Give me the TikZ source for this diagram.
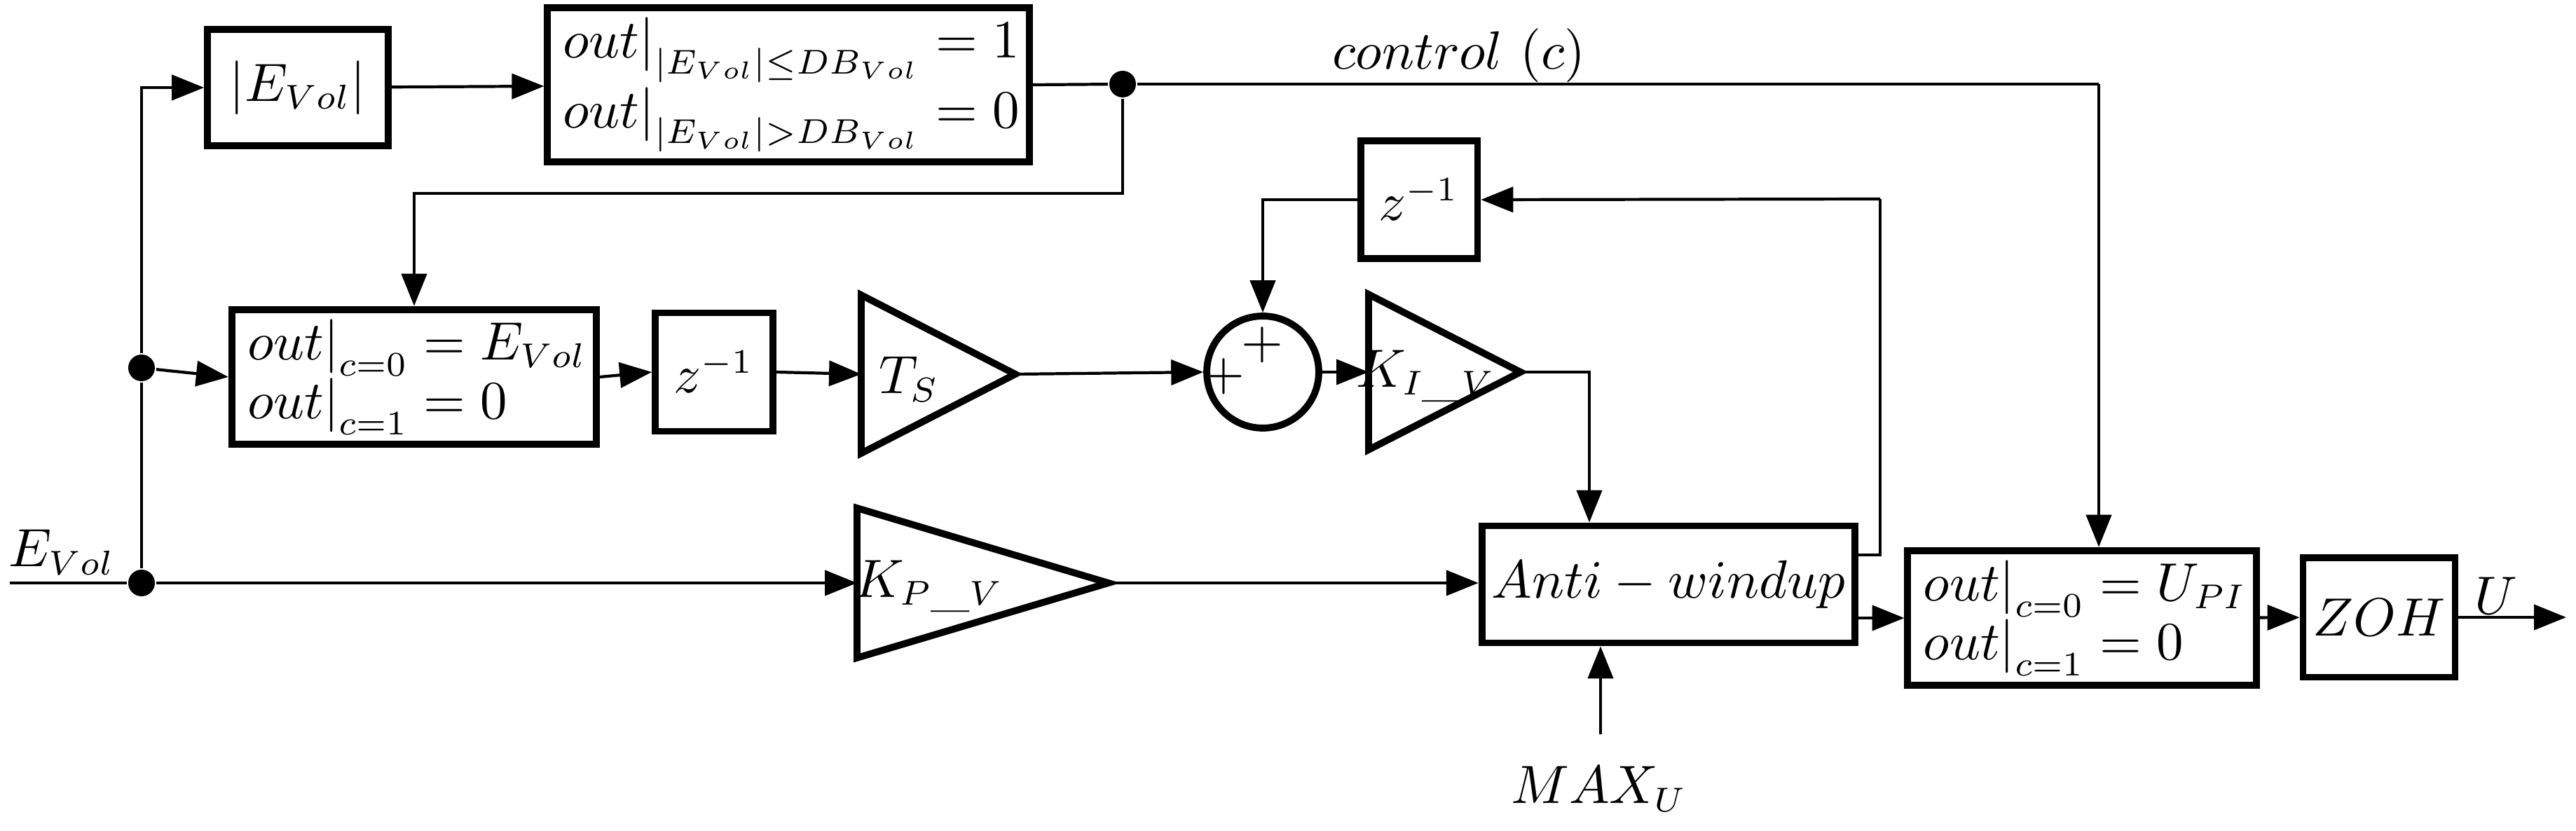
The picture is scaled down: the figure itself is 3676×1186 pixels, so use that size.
\documentclass[tikz,border=0pt]{standalone}
\usepackage{tikz}
\usetikzlibrary{arrows.meta,shapes.geometric}

\begin{document}
\begin{tikzpicture}[x=0.005cm,y=-0.005cm,->,>={Triangle[length=0.23cm,width=0.18cm]},line width=0.6pt,
	font=\fontsize{10.5}{12}\selectfont,
	block/.style={draw,line width=1.4pt,inner sep=2pt,align=left},
	gain/.style={draw,line width=1.4pt,isosceles triangle,isosceles triangle stretches,shape border rotate=0,inner sep=0pt,outer sep=0pt,anchor=lower side},
	sum node/.style={draw,line width=1.4pt,circle,minimum size=0.8cm,inner sep=0pt},
	dot/.style={fill,circle,inner sep=0pt,minimum size=0.19cm},
	lbl/.style={draw=none,inner sep=0pt}]

	\useasboundingbox (0,0) rectangle (3676,1186);

	% blocks
	\node[block,minimum width=1.29cm,minimum height=0.83cm] (absE) at (425,125) {$|E_{Vol}|$};
	\node[block,minimum width=2.89cm,minimum height=1.02cm] (logic) at (1125,121) {$\left.out\right|_{|E_{Vol}|\leq DB_{Vol}}=1$\\$\left.out\right|_{|E_{Vol}|>DB_{Vol}}=0$};
	\node[block,minimum width=2.335cm,minimum height=0.94cm] (sel) at (591,538) {$\left.out\right|_{c=0}=E_{Vol}$\\$\left.out\right|_{c=1}=0$};
	\node[block,minimum width=0.84cm,minimum height=0.845cm] (z1) at (1019,531) {$z^{-1}$};
	\node[gain,minimum height=1.1cm,minimum width=1.13cm] (Ts) at (1229,534) {};
	\node[sum node] (sum) at (1802,531) {};
	\node[gain,minimum height=1.085cm,minimum width=1.11cm] (KI) at (1953,531) {};
	\node[block,minimum width=0.835cm,minimum height=0.84cm] (z2) at (2025,285) {$z^{-1}$};
	\node[gain,minimum height=1.795cm,minimum width=1.07cm] (KP) at (1223,832) {};
	\node[block,minimum width=2.265cm,minimum height=0.835cm,align=center] (aw) at (2381,834) {$Anti-windup$};
	\node[block,minimum width=2.115cm,minimum height=0.85cm] (outsel) at (2971,882) {$\left.out\right|_{c=0}=U_{PI}$\\$\left.out\right|_{c=1}=0$};
	\node[block,minimum width=0.905cm,minimum height=0.855cm] (zoh) at (3395,881) {$ZOH$};

	% junctions and free ends
	\node[dot] (dotB) at (202,832) {};
	\node[dot] (dotA) at (202,525) {};
	\node[dot] (dotC) at (1602,120) {};
	\coordinate (in) at (14,832);
	\coordinate (ctl) at (2995,120);
	\coordinate (fb) at (2683,284);
	\coordinate (max) at (2284,1048);
	\coordinate (uend) at (3662,881);

	% labels
	\node[lbl] (lTs) at (1297,541) {$T_S$};
	\node[lbl] (lKI) at (2035,537) {$K_{I\_V}$};
	\node[lbl] (lKP) at (1326,837) {$K_{P\_V}$};
	\node[lbl] (lE) at (88,788) {$E_{Vol}$};
	\node[lbl] (lc) at (2082,79) {$control\ (c)$};
	\node[lbl] (lU) at (3562,850) {$U$};
	\node[lbl] (lmax) at (2282,1126) {$MAX_U$};
	\node[lbl] (p1) at (1746,537) {$+$};
	\node[lbl] (p2) at (1801,492) {$+$};

	% connections
	\draw[-] (in) -- (dotB);
	\draw (dotB) -- (KP.lower side);
	\draw[-] (dotB) -- (dotA);
	\draw (dotA) |- (absE.west);
	\draw (dotA) -- (sel.west);
	\draw (absE) -- (logic);
	\draw[-] (logic.east) -- (dotC);
	\draw (dotC) -- ++(0,156) -| (sel.north);
	\draw[-] (dotC) -- (ctl);
	\draw (ctl) -- (ctl |- outsel.north);
	\draw (sel.east) -- (z1.west);
	\draw (z1.east) -- (Ts.lower side);
	\draw (Ts.apex) -- (sum.west);
	\draw (sum.east) -- (KI.lower side);
	\draw (KI.apex) -| (aw.north -| 2268,0);
	\draw[-] (aw.east |- 0,792) -| (fb);
	\draw (fb) -- (z2.east);
	\draw (z2.west) -| (sum.north);
	\draw (KP.apex) -- (aw.west |- KP.apex);
	\draw (aw.east |- outsel.west) -- (outsel.west);
	\draw (max) -- (max |- aw.south);
	\draw (outsel) -- (zoh);
	\draw (zoh.east) -- (uend);

\end{tikzpicture}
\end{document}
